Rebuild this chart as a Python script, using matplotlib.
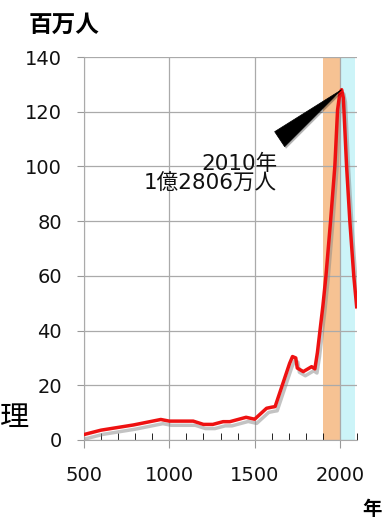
import matplotlib
matplotlib.use("Agg")
import matplotlib.pyplot as plt
import matplotlib.patheffects as pe
from matplotlib.patches import Polygon
from matplotlib.transforms import ScaledTranslation
from matplotlib.ticker import MultipleLocator

plt.rcParams['font.family'] = ['DejaVu Sans', 'Noto Sans CJK JP']

# ================== DATA ==================
years = [500, 600, 790, 950, 1000, 1140, 1200, 1255, 1315, 1355, 1450, 1500,
         1570, 1600, 1620, 1705, 1722, 1741, 1750, 1785, 1834, 1853, 1868,
         1883, 1900, 1918, 1945, 1970, 1986, 2000, 2010, 2020, 2039, 2058,
         2081, 2098]
population = [2, 3.6, 5.5, 7.5, 6.9, 6.9, 5.7, 5.7, 6.7, 6.7, 8.3, 7.6,
              11.6, 12, 12.2, 28, 30.5, 30, 26.3, 25, 26.8, 26, 32,
              40, 49, 60, 80, 100, 120.6, 127, 128.06, 125, 100, 80,
              60, 48.7]
peak_year = 2010
peak_value = 128.06
xticks = [500, 1000, 1500, 2000]
yticks = [0, 20, 40, 60, 80, 100, 120, 140]
past_span = (1900, 2000)
future_span = (2000, 2090)

# ================== PLOT ==================
fig = plt.figure(figsize=(3.9, 5.23), dpi=100)
ax = fig.add_axes([0.2154, 0.1587, 0.70, 0.7323])

ax.axvspan(*past_span, color='#f6c293', lw=0, zorder=0.2)
ax.axvspan(*future_span, color='#ccf4f8', lw=0, zorder=0.2)

ax.plot(years, population, color='#ee1111', lw=2.5, zorder=3,
        solid_joinstyle='round',
        path_effects=[pe.SimpleLineShadow(offset=(1.5, -3), shadow_color='#888888', alpha=0.5),
                      pe.Normal()])

# black wedge pointing at the peak (shape given in inches from the tip)
tip = fig.dpi_scale_trans + ScaledTranslation(peak_year, peak_value, ax.transData)
wedge = Polygon([(0, 0), (-0.67, -0.42), (-0.57, -0.57)], closed=True,
                fc='black', ec='black', lw=0.5, transform=tip, zorder=4,
                path_effects=[pe.SimplePatchShadow(offset=(1, -1.5), alpha=0.3),
                              pe.Normal()])
ax.add_patch(wedge)
ax.text(0.707, 0.695, f'{peak_year}年\n1億{round(peak_value * 100) - 10000}万人',
        transform=ax.transAxes, ha='right', va='center', fontsize=15.5,
        linespacing=1.0, color='#111111')

ax.set_xlim(500, 2100)
ax.set_ylim(0, 140)
ax.set_xticks(xticks)
ax.set_yticks(yticks)
ax.xaxis.set_minor_locator(MultipleLocator(100))
ax.tick_params(axis='both', labelsize=14, colors='#999999', labelcolor='#111111')
ax.tick_params(axis='x', which='major', direction='out', length=6, pad=13)
ax.tick_params(axis='x', which='minor', direction='in', length=5)
ax.tick_params(axis='y', which='major', direction='out', length=5, pad=11)

ax.grid(True, color='#aaaaaa', lw=0.9)
ax.set_axisbelow(True)
for side in ['top', 'right']:
    ax.spines[side].set_visible(False)
for side in ['left', 'bottom']:
    ax.spines[side].set_color('#aaaaaa')

fig.text(0.164, 0.952, '百万人', fontsize=17, fontweight='bold', ha='center', va='center')
fig.text(0.955, 0.025, '年', fontsize=14, fontweight='bold', ha='center', va='center')
fig.text(0.037, 0.2, '理', fontsize=21, ha='center', va='center')

fig.savefig('out.png', dpi=100)
